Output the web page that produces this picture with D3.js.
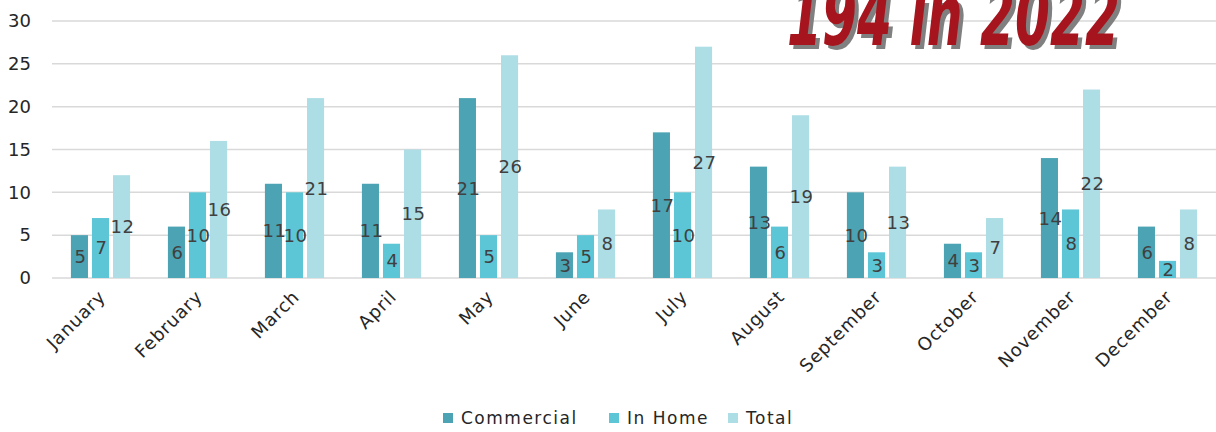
<!DOCTYPE html>
<html>
<head>
<meta charset="utf-8">
<script src="https://cdn.jsdelivr.net/npm/d3@7"></script>
<style>
  body { margin: 0; background: #fff; }
  svg { display: block; font-family: "DejaVu Sans", sans-serif; }
</style>
</head>
<body>
<div id="chart"></div>
<script>
// chart data
const months = ["January", "February", "March", "April", "May", "June",
  "July", "August", "September", "October", "November", "December"];
const seriesNames = ["Commercial", "In Home", "Total"];
const commercial = [5, 6, 11, 11, 21, 3, 17, 13, 10, 4, 14, 6];
const inHome = [7, 10, 10, 4, 5, 5, 10, 6, 3, 3, 8, 2];
const total = [12, 16, 21, 15, 26, 8, 27, 19, 13, 7, 22, 8];
const yTicks = [0, 5, 10, 15, 20, 25, 30];
const titleText = "194 in 2022";

const colors = { "Commercial": "#4ba3b3", "In Home": "#5cc6d6", "Total": "#addde5" };

const width = 1216, height = 432;
const margin = { top: 21, right: 0, bottom: 154, left: 52 };

const svg = d3.select("#chart").append("svg")
  .attr("width", width)
  .attr("height", height);

// scales
const x0 = d3.scaleBand()
  .domain(months)
  .range([margin.left, width - margin.right])
  .paddingInner(0.39)
  .paddingOuter(0.195);

const x1 = d3.scaleBand()
  .domain(seriesNames)
  .range([0, x0.bandwidth()])
  .paddingInner(0.19);

const y = d3.scaleLinear()
  .domain([0, 30])
  .range([height - margin.bottom, margin.top]);

// gridlines
svg.append("g")
  .selectAll("line")
  .data(yTicks)
  .enter().append("line")
  .attr("x1", margin.left)
  .attr("x2", width - margin.right)
  .attr("y1", d => y(d))
  .attr("y2", d => y(d))
  .attr("stroke", "#d9d9d9")
  .attr("stroke-width", 1.5);

// y axis labels
const yAxis = svg.append("g")
  .attr("transform", `translate(${margin.left - 21},0)`)
  .call(d3.axisLeft(y).tickValues(yTicks).tickSize(0).tickPadding(0));
yAxis.select(".domain").remove();
yAxis.selectAll("text")
  .style("font-size", "18px")
  .style("font-family", "DejaVu Sans, sans-serif")
  .attr("fill", "#262626");

// title with shadow (top is clipped by the page edge like the original)
const title = svg.append("g");
[["#808080", 4, 4], ["#a6141e", 0, 0]].forEach(([c, dx, dy]) => {
  title.append("text")
    .attr("x", 787 + dx)
    .attr("y", 45 + dy)
    .attr("textLength", 333)
    .attr("lengthAdjust", "spacingAndGlyphs")
    .style("font-family", "DejaVu Sans Condensed, DejaVu Sans, sans-serif")
    .style("font-stretch", "condensed")
    .style("font-weight", "bold")
    .style("font-style", "italic")
    .style("font-size", "84px")
    .attr("fill", c)
    .text(titleText);
});

// bars
const rows = months.map((m, i) => ({
  month: m,
  values: [
    { key: "Commercial", value: commercial[i] },
    { key: "In Home", value: inHome[i] },
    { key: "Total", value: total[i] }
  ]
}));

const groups = svg.append("g")
  .selectAll("g.month")
  .data(rows)
  .enter().append("g")
  .classed("month", true)
  .attr("transform", d => `translate(${x0(d.month)},0)`);

groups.selectAll("rect")
  .data(d => d.values)
  .enter().append("rect")
  .attr("x", d => x1(d.key))
  .attr("y", d => y(d.value))
  .attr("width", x1.bandwidth())
  .attr("height", d => y(0) - y(d.value))
  .attr("fill", d => colors[d.key]);

// data labels, centred in the bar
groups.selectAll("text.val")
  .data(d => d.values)
  .enter().append("text")
  .attr("class", "val")
  .attr("x", d => x1(d.key) + x1.bandwidth() / 2 + 1)
  .attr("y", d => (y(d.value) + y(0)) / 2)
  .attr("dy", "0.36em")
  .attr("text-anchor", "middle")
  .style("font-size", "18px")
  .style("letter-spacing", "0.5px")
  .attr("fill", "#404040")
  .text(d => d.value);

// x axis labels rotated
const xAxis = svg.append("g")
  .attr("transform", `translate(0,${y(0)})`)
  .call(d3.axisBottom(x0).tickSize(0).tickPadding(0));
xAxis.select(".domain").remove();
xAxis.selectAll("text")
  .attr("text-anchor", "end")
  .attr("dy", null)
  .attr("y", 0)
  .attr("transform", "translate(6,20) rotate(-45)")
  .style("font-size", "18px")
  .style("letter-spacing", "0.8px")
  .style("font-family", "DejaVu Sans, sans-serif")
  .attr("fill", "#262626");

// legend
const legendX = [443, 609, 728];
const legend = svg.append("g")
  .selectAll("g")
  .data(seriesNames)
  .enter().append("g")
  .attr("transform", (d, i) => `translate(${legendX[i]},413)`);
legend.append("rect")
  .attr("width", 10)
  .attr("height", 10)
  .attr("fill", d => colors[d]);
legend.append("text")
  .attr("x", 18)
  .attr("y", 11)
  .style("font-size", "17px")
  .style("letter-spacing", "1.5px")
  .attr("fill", "#262626")
  .text(d => d);
</script>
</body>
</html>
